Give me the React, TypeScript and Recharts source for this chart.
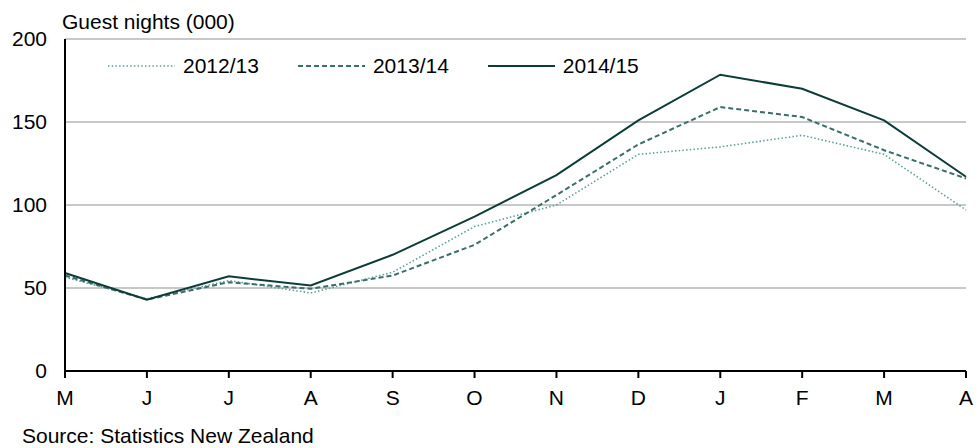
import React from "react";
import {
  LineChart,
  Line,
  XAxis,
  YAxis,
  CartesianGrid,
  Legend,
} from "recharts";

// months May..April
const months = ["M", "J", "J", "A", "S", "O", "N", "D", "J", "F", "M", "A"];
const y1213 = [56.5, 43.5, 54.5, 47, 59.5, 87, 100, 130.5, 135, 142, 130.5, 97];
const y1314 = [57.5, 43, 53.5, 49.5, 57.5, 76, 106, 136.5, 159, 153, 133, 116];
const y1415 = [59, 43, 57, 51.5, 70, 93, 118, 151, 178.5, 170, 151, 117];
const yTicks = [0, 50, 100, 150, 200];

const FONT = "'Liberation Sans', Arial, sans-serif";

const series = [
  { key: "s1213", name: "2012/13", color: "#5f9f9c", width: 1.6, dash: "1.5 2.2" },
  { key: "s1314", name: "2013/14", color: "#3b6d6a", width: 2, dash: "5 3" },
  { key: "s1415", name: "2014/15", color: "#0c3b38", width: 2, dash: undefined },
];

const data = months.map((m, i) => ({
  month: m,
  s1213: y1213[i],
  s1314: y1314[i],
  s1415: y1415[i],
}));

function renderLegend() {
  return (
    <div style={{ display: "flex", alignItems: "center", fontFamily: FONT, fontSize: 21 }}>
      {series.map((s) => (
        <div key={s.key} style={{ display: "flex", alignItems: "center", marginRight: 39 }}>
          <svg width={67} height={12} style={{ marginRight: 8 }}>
            <line
              x1={0}
              y1={6}
              x2={67}
              y2={6}
              stroke={s.color}
              strokeWidth={s.width}
              strokeDasharray={s.dash}
            />
          </svg>
          <span style={{ color: "#000", lineHeight: "21px" }}>{s.name}</span>
        </div>
      ))}
    </div>
  );
}

export default function App() {
  return (
    <div
      style={{
        position: "absolute",
        left: 0,
        top: 0,
        width: 978,
        height: 448,
        background: "#fff",
        fontFamily: FONT,
        overflow: "hidden",
      }}
    >
      <div
        style={{
          position: "absolute",
          left: 62,
          top: 11,
          fontSize: 21,
          lineHeight: "21px",
          color: "#000",
          whiteSpace: "nowrap",
        }}
      >
        Guest nights (000)
      </div>
      <LineChart
        width={978}
        height={448}
        data={data}
        margin={{ top: 39, right: 12, left: 0, bottom: 47 }}
      >
        <CartesianGrid vertical={false} stroke="#c8c8c8" strokeWidth={2} />
        <XAxis
          dataKey="month"
          interval={0}
          padding={{ left: 0, right: 0 }}
          height={30}
          axisLine={{ stroke: "#000", strokeWidth: 2 }}
          tickLine={{ stroke: "#000", strokeWidth: 2 }}
          tickSize={7}
          tickMargin={12}
          tick={{ fill: "#000", fontSize: 21, fontFamily: FONT }}
        />
        <YAxis
          domain={[0, 200]}
          ticks={yTicks}
          width={65}
          axisLine={{ stroke: "#000", strokeWidth: 2 }}
          tickLine={false}
          tickSize={0}
          tickMargin={18}
          tick={{ fill: "#000", fontSize: 21, fontFamily: FONT }}
        />
        <Legend
          layout="horizontal"
          verticalAlign="middle"
          align="center"
          content={renderLegend}
          wrapperStyle={{ top: 55, left: 108, width: "auto" }}
        />
        {series.map((s) => (
          <Line
            key={s.key}
            type="linear"
            dataKey={s.key}
            name={s.name}
            stroke={s.color}
            strokeWidth={s.width}
            strokeDasharray={s.dash}
            dot={false}
            activeDot={false}
            isAnimationActive={false}
          />
        ))}
      </LineChart>
      <div
        style={{
          position: "absolute",
          left: 22,
          top: 427,
          fontSize: 21,
          lineHeight: "18px",
          color: "#000",
          whiteSpace: "nowrap",
        }}
      >
        Source: Statistics New Zealand
      </div>
    </div>
  );
}
